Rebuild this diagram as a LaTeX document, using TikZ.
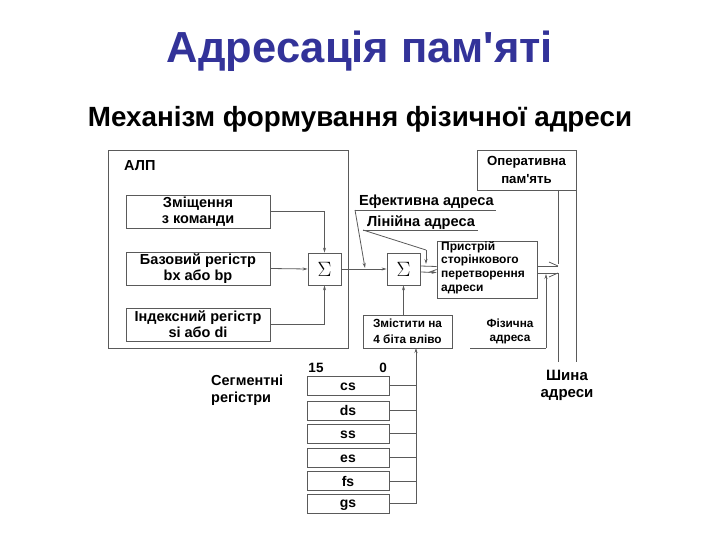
\documentclass[tikz,border=0pt]{standalone}
\usepackage{fontspec}
\setmainfont{Liberation Sans}[Ligatures=TeXOff]
\usetikzlibrary{arrows.meta,calc}
\definecolor{titleblue}{RGB}{51,51,153}
\definecolor{ln}{RGB}{90,90,90}
\begin{document}
\begin{tikzpicture}[x=1pt,y=-1pt,
  bx/.style={draw=ln,line width=0.8pt,rectangle,inner sep=0pt},
  lbl/.style={font=\bfseries\fontsize{14.5}{16}\selectfont,align=center,inner sep=0pt},
  sig/.style={bx,minimum width=33,minimum height=32,font=\fontsize{20}{20}\selectfont},
  wire/.style={draw=ln,line width=0.8pt},
  arr/.style={wire,-{Stealth[length=5pt,width=3pt]}}]
\useasboundingbox (0,0) rectangle (720,540);
% titles
\node[font=\bfseries\fontsize{43.5}{50}\selectfont,text=titleblue] (title) at (360,51) {Адресація пам'яті};
\node[font=\bfseries\fontsize{27.8}{32}\selectfont] (sub) at (360,119) {Механізм формування фізичної адреси};
% ALU
\draw[wire] (108,150) rectangle (348,348);
\node[lbl,anchor=west] (alu) at (124,166) {АЛП};
\node[bx,minimum width=144,minimum height=33] (disp) at (198,211.5) {};
\node[lbl] at (disp) {Зміщення\\з команди};
\node[bx,minimum width=144,minimum height=33] (base) at (198,268.5) {};
\node[lbl] at (base) {Базовий регістр\\bx або bp};
\node[bx,minimum width=144,minimum height=33] (idx) at (198,324.5) {};
\node[lbl] at (idx) {Індексний регістр\\si або  di};
\node[sig] (s1) at (324.5,269) {$\Sigma$};
\draw[arr] (disp.east) -| (s1.north);
\draw[arr] (base.east) -- (s1.west);
\draw[arr] (idx.east) -| (s1.south);
% second adder
\node[sig] (s2) at (403.5,269) {$\Sigma$};
\draw[arr] (s1.east) -- (s2.west);
% paging unit
\node[bx,minimum width=100,minimum height=57] (page) at (487,269.5) {};
\node[lbl,align=left,anchor=west,font=\bfseries\fontsize{12}{13.6}\selectfont] at (441,267.5) {Пристрій\\сторінкового\\перетворення\\адреси};
\draw[arr] ([yshift=-3]s2.east) -- ([yshift=-3]page.west);
\draw[wire] ([yshift=3]s2.east) -- ([yshift=3]page.west);
\draw[wire] ($(page.west)+(-8,3)$) -- ($(page.west)+(0,0)$);
% labels with leaders
\node[lbl,anchor=base west,font=\bfseries\fontsize{14.6}{16}\selectfont] (ea) at (359,206) {Ефективна адреса};
\draw[wire] (355,210) -- (496,210);
\coordinate (eaend) at (365,268);
\draw[arr] (355,210) -- (eaend);
\node[lbl,anchor=base west,font=\bfseries\fontsize{14.6}{16}\selectfont] (la) at (367,226) {Лінійна адреса};
\draw[wire] (363,230) -- (478,230);
\coordinate (lak) at (426,250);
\draw[wire] (363,230) -- (lak);
\draw[arr] (lak) -- (426,264);
% shift box
\node[bx,minimum width=89,minimum height=33] (shift) at (407.5,331.5) {};
\node[lbl,font=\bfseries\fontsize{11.8}{16}\selectfont] at (shift) {Змістити на\\4 біта вліво};
\draw[arr] (shift.north -| s2.south) -- (s2.south);
% memory
\node[bx,minimum width=99,minimum height=40] (mem) at (526.5,170) {};
\node[lbl,font=\bfseries\fontsize{13.2}{18}\selectfont] at (mem) {Оперативна\\пам'ять};
\coordinate (b1) at (558,362);
\coordinate (b2) at (576,362);
\draw[wire] (558,190) -- (558,264);
\draw[wire] (576,190) -- (b2);
\draw[wire] (537,266) -- (558,266);
\draw[wire] (549,262) -- (558,266);
\draw[wire] (537,273) -- (558,273) -- (b1);
\draw[wire] (549,277) -- (558,273);
% physical address
\node[lbl,font=\bfseries\fontsize{11.8}{14}\selectfont] (phys) at (510,331) {Фізична\\адреса};
\coordinate (pc) at (546,348);
\draw[wire] (470,348) -- (pc);
\draw[arr] (pc) -- (546,274);
\node[lbl,font=\bfseries\fontsize{15}{17}\selectfont] (bus) at (567,385) {Шина\\адреси};
% segment registers
\node[lbl,anchor=west,align=left,font=\bfseries\fontsize{14.5}{17}\selectfont] (segl) at (211,390) {Сегментні\\регістри};
\node[lbl,font=\bfseries\fontsize{13.5}{15}\selectfont] (n15) at (316,368) {15};
\node[lbl,font=\bfseries\fontsize{13.5}{15}\selectfont] (n0) at (383,368) {0};
\foreach \n/\y in {cs/385.5,ds/410.5,ss/433.5,es/457.5,fs/481,gs/503.5}{
  \node[bx,minimum width=82,minimum height=19,font=\bfseries\fontsize{14}{15}\selectfont] (\n) at (348,\y) {\n\vphantom{d}};
  \draw[wire] (\n.east) -- (416,\y);
}
\draw[arr] (416,503.5) -- (416,348);
\end{tikzpicture}
\end{document}
